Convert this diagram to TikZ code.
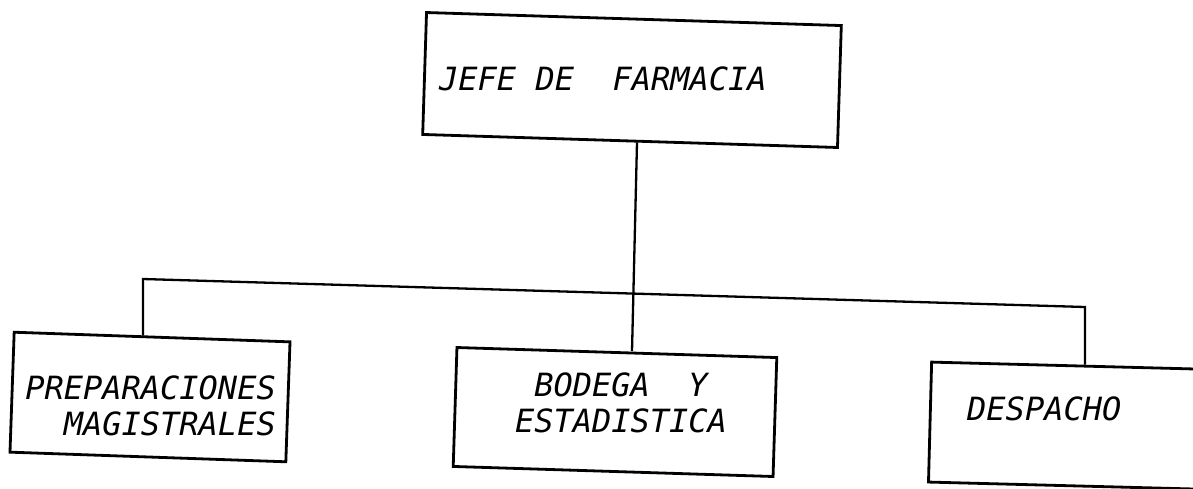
\documentclass[tikz,border=0pt]{standalone}
\usepackage{fontspec}
\newfontfamily\lettering{DejaVu Sans Mono}
\begin{document}
\begin{tikzpicture}[x=1pt,y=-1pt,
  box/.style={draw=black, line width=2.8pt, inner sep=0pt},
  wire/.style={draw=black, line width=2.3pt},
  lbl/.style={inner sep=0pt, font=\lettering\itshape\fontsize{32}{36}\selectfont}]
\useasboundingbox[fill=white] (0,0) rectangle (1193,488);
% boxes
\node[box, minimum width=415pt, minimum height=122pt, rotate=-1.8] (top) at (632,80) {};
\node[box, minimum width=276pt, minimum height=120pt, rotate=-2] (lft) at (150,397) {};
\node[box, minimum width=320pt, minimum height=119pt, rotate=-1.8] (mid) at (615,412) {};
\node[box, minimum width=300pt, minimum height=120pt, rotate=-1.5] (rgt) at (1080,426) {};
% labels
\node[lbl, anchor=base west] (ttop) at (439,90) {JEFE~DE~~FARMACIA};
\node[lbl, anchor=base east, align=right] (tlft) at (276,435) {PREPARACIONES\\MAGISTRALES};
\node[lbl, anchor=base, align=center] (tmid) at (621,432) {BODEGA~~Y\\ESTADISTICA};
\node[lbl, anchor=base west] (trgt) at (967,420) {DESPACHO};
% connectors
\coordinate (vt) at (637,0);
\coordinate (vb) at (632,0);
\coordinate (hl) at (143,279);
\coordinate (hr) at (1085,307);
\draw[wire] (top.south -| vt) -- (mid.north -| vb);
\draw[wire] (lft.north -| hl) -- (hl) -- (hr) -- (rgt.north -| hr);
\end{tikzpicture}
\end{document}
